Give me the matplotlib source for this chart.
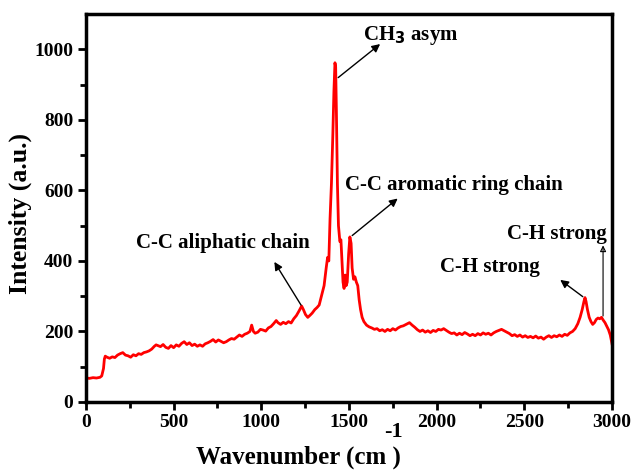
import matplotlib
matplotlib.use('Agg')
import matplotlib.pyplot as plt
import numpy as np

plt.rcParams['font.family'] = 'Liberation Serif'
plt.rcParams['font.weight'] = 'bold'

# Raman spectrum, read point by point
wavenumber = [0, 20, 40, 60, 80, 90, 100, 105, 110, 120, 135, 150, 165, 180, 195, 210, 225, 240, 255, 270,
              285, 300, 315, 330, 345, 360, 375, 390, 400, 410, 425, 440, 455, 470, 485, 500, 515, 530, 545, 560,
              575, 590, 605, 620, 635, 650, 665, 680, 695, 710, 725, 740, 755, 770, 785, 800, 815, 830, 845, 860,
              875, 890, 905, 920, 935, 945, 955, 965, 980, 995, 1010, 1025, 1040, 1055, 1070, 1085, 1095, 1110,
              1125, 1140, 1155, 1170, 1185, 1200, 1215, 1230, 1240, 1252, 1265, 1278, 1290, 1305, 1318, 1330,
              1345, 1358, 1370, 1378, 1385, 1392, 1400, 1408, 1414, 1420, 1424, 1428, 1434, 1440, 1448, 1454,
              1460, 1466, 1472, 1478, 1484, 1490, 1498, 1505, 1512, 1518, 1526, 1534, 1542, 1550, 1558, 1566,
              1575, 1585, 1600, 1615, 1630, 1645, 1660, 1675, 1690, 1705, 1720, 1735, 1750, 1765, 1780, 1795,
              1810, 1825, 1845, 1860, 1875, 1890, 1905, 1920, 1935, 1950, 1965, 1980, 1995, 2010, 2025, 2040,
              2055, 2070, 2085, 2100, 2115, 2130, 2145, 2160, 2175, 2190, 2205, 2220, 2235, 2250, 2265, 2280,
              2295, 2310, 2325, 2340, 2355, 2370, 2385, 2400, 2415, 2430, 2445, 2460, 2475, 2490, 2505, 2520,
              2535, 2550, 2565, 2580, 2595, 2610, 2625, 2640, 2655, 2670, 2685, 2700, 2715, 2730, 2745, 2760,
              2775, 2790, 2805, 2818, 2830, 2840, 2846, 2852, 2860, 2870, 2880, 2890, 2900, 2910, 2920, 2930,
              2940, 2950, 2960, 2970, 2980, 2990, 3000]
intensity = [68, 67, 69, 68, 70, 74, 95, 122, 130, 127, 124, 128, 126, 133, 137, 140, 133, 131, 127, 134,
             131, 137, 135, 140, 142, 145, 150, 158, 162, 160, 157, 163, 155, 152, 160, 154, 162, 158, 166, 171,
             163, 168, 160, 164, 158, 162, 158, 165, 168, 172, 177, 170, 176, 172, 168, 171, 176, 180, 178, 184,
             190, 186, 192, 195, 200, 218, 200, 195, 198, 206, 204, 201, 210, 214, 222, 231, 225, 220,
             226, 222, 228, 224, 236, 245, 258, 272, 262, 248, 240, 246, 252, 262, 268, 275,
             305, 330, 380, 410, 400, 520, 620, 760, 880, 962, 950, 830, 620, 500, 455, 460,
             400, 340, 322, 360, 330, 340, 420, 468, 450, 380, 348, 355, 340, 330, 290, 262,
             240, 228, 218, 213, 210, 206, 208, 202, 205, 200, 206, 202, 208, 204, 210, 214,
             216, 220, 225, 218, 212, 205, 200, 204, 198, 202, 197, 203, 200, 206, 204, 208,
             203, 198, 194, 196, 190, 195, 191, 197, 193, 188, 192, 188, 194, 190, 196, 192,
             195, 190, 196, 200, 203, 206, 202, 198, 194, 188, 191, 186, 190, 184, 188, 183,
             186, 182, 187, 181, 184, 178, 184, 188, 183, 188, 185, 190, 186, 192, 189, 196,
             200, 208, 222, 240, 262, 285, 296, 285, 262, 240, 228, 220, 225, 234, 238, 236,
             240, 232, 225, 215, 205, 190, 165]

x_ticks = [0, 500, 1000, 1500, 2000, 2500, 3000]
y_ticks = [0, 200, 400, 600, 800, 1000]

fig = plt.figure(figsize=(6.34, 4.70), dpi=100)
ax = fig.add_axes([0.1356, 0.1447, 0.8297, 0.8253])
ax.plot(wavenumber, intensity, color='red', lw=2.0)

ax.set_xlim(0, 3000)
ax.set_ylim(0, 1100)
ax.set_xticks(x_ticks)
ax.set_yticks(y_ticks)
ax.set_xticks(np.arange(250, 3000, 500), minor=True)
ax.set_yticks(np.arange(100, 1100, 200), minor=True)
ax.tick_params(which='major', direction='out', length=6, width=2, labelsize=14, pad=3)
ax.tick_params(which='minor', direction='out', length=4, width=2)
for lab in ax.get_xticklabels() + ax.get_yticklabels():
    lab.set_fontweight('bold')
for sp in ax.spines.values():
    sp.set_linewidth(2.5)

# axis titles
fig.text(0.0315, 0.545, 'Intensity (a.u.)', fontsize=18.5, fontweight='bold',
         rotation=90, ha='center', va='center')
fig.text(0.309, 0.014, 'Wavenumber (cm )', fontsize=18, fontweight='bold', ha='left', va='baseline')
fig.text(0.620, 0.080, '-1', fontsize=16, fontweight='bold', ha='center', va='center')

arrow = dict(arrowstyle='-|>', color='black', lw=1.0, mutation_scale=12)
tfont = dict(fontsize=15, fontweight='bold')

ax.annotate('', xy=(1690, 1020), xytext=(1426, 915), arrowprops=arrow)
ax.text(1580, 1040, r'CH$_\mathbf{3}$ asym', va='center', ha='left', **tfont)

ax.annotate('', xy=(1790, 582), xytext=(1506, 467), arrowprops=arrow)
ax.text(1477, 615, 'C-C aromatic ring chain', va='center', ha='left', **tfont)

ax.annotate('', xy=(1066, 404), xytext=(1235, 268), arrowprops=arrow)
ax.text(1277, 450, 'C-C aliphatic chain', va='center', ha='right', **tfont)

ax.annotate('', xy=(2692, 351), xytext=(2846, 294), arrowprops=arrow)
ax.text(2304, 382, 'C-H strong', va='center', ha='center', **tfont)

ax.annotate('', xy=(2949, 452), xytext=(2949, 236),
            arrowprops=dict(arrowstyle='-|>', color='black', lw=0.8, mutation_scale=9, fill=False))
ax.text(2971, 476, 'C-H strong', va='center', ha='right', **tfont)

fig.savefig('out.png', dpi=100)
